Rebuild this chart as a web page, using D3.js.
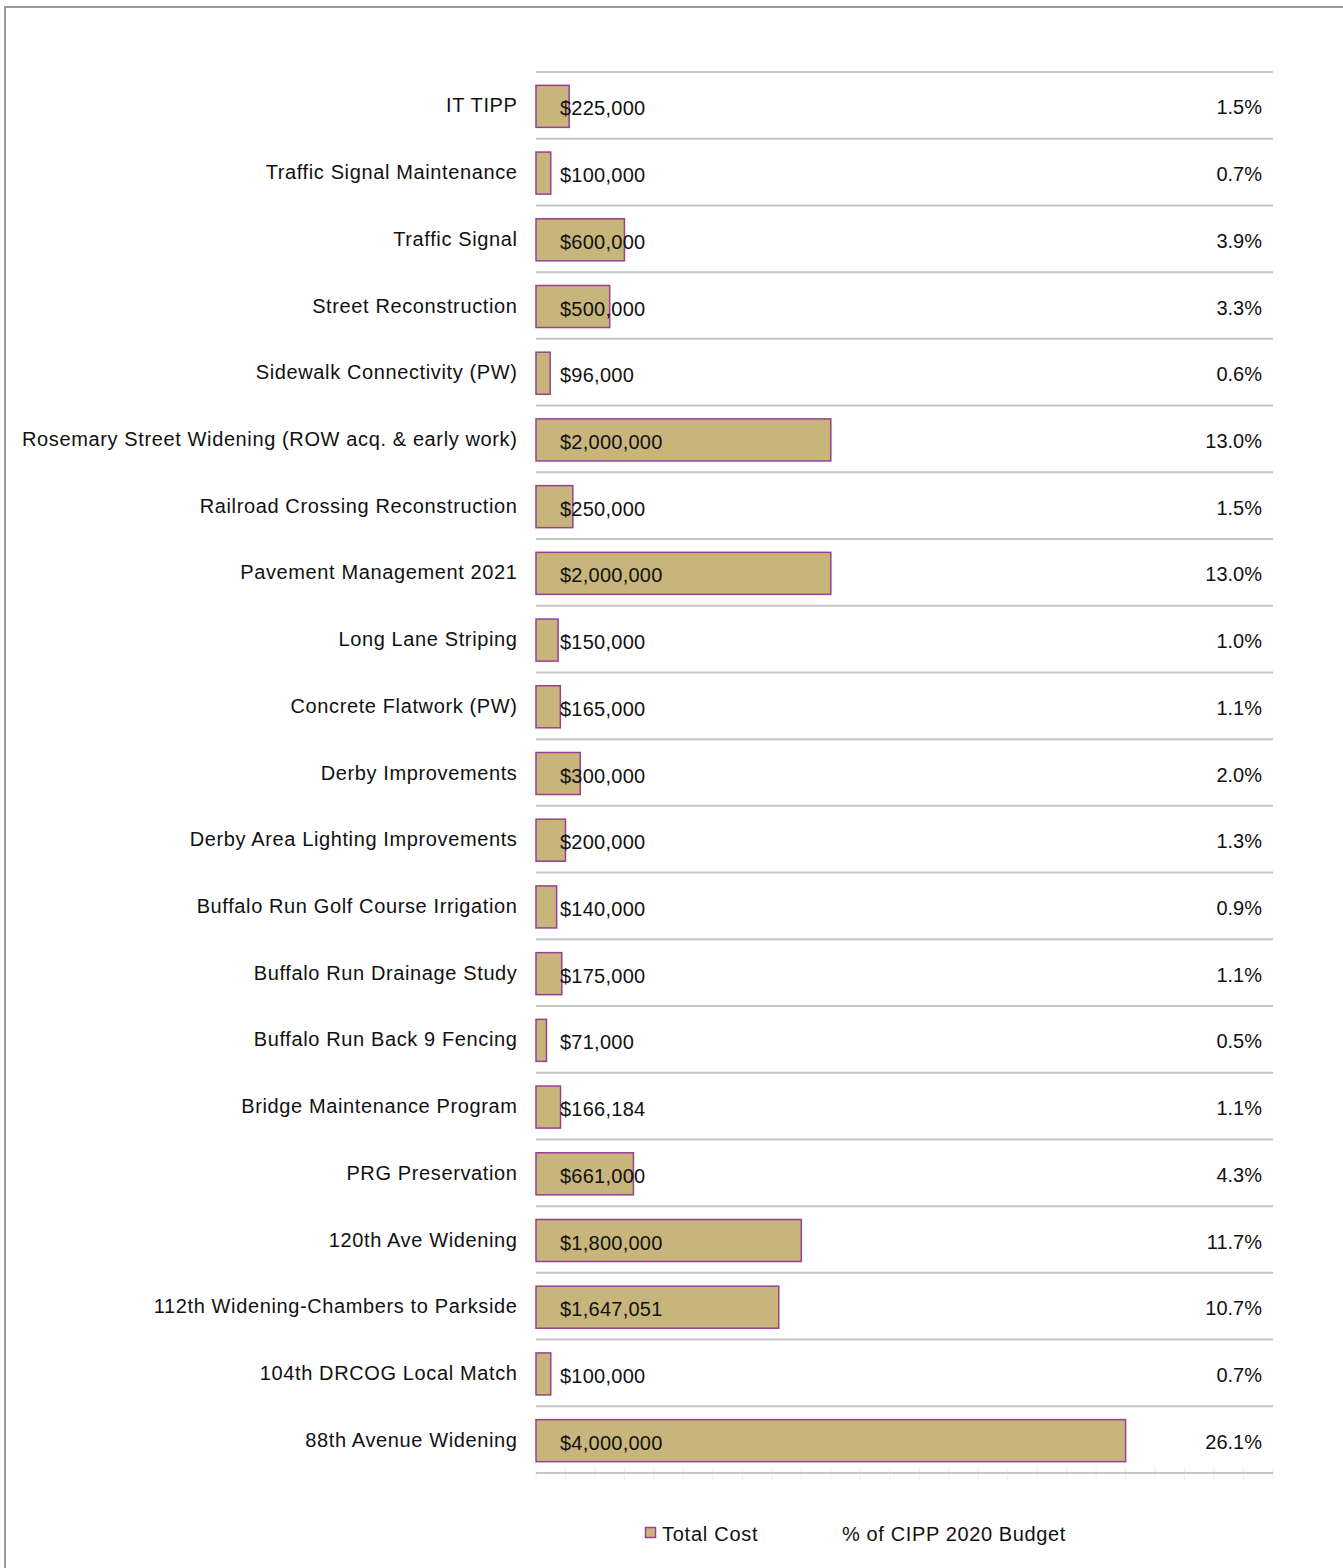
<!DOCTYPE html>
<html>
<head>
<meta charset="utf-8">
<script src="https://cdn.jsdelivr.net/npm/d3@7"></script>
<style>
  html, body { margin: 0; padding: 0; background: #fff; }
  svg { display: block; }
  text { font-family: "Liberation Sans", Arial, sans-serif; fill: #111; }
</style>
</head>
<body>
<svg id="chart" width="1343" height="1568"></svg>
<script>
// Capital projects: total cost and share of the CIPP 2020 budget
const projects = [
  "IT TIPP",
  "Traffic Signal Maintenance",
  "Traffic Signal",
  "Street Reconstruction",
  "Sidewalk Connectivity (PW)",
  "Rosemary Street Widening (ROW acq. & early work)",
  "Railroad Crossing Reconstruction",
  "Pavement Management 2021",
  "Long Lane Striping",
  "Concrete Flatwork (PW)",
  "Derby Improvements",
  "Derby Area Lighting Improvements",
  "Buffalo Run Golf Course Irrigation",
  "Buffalo Run Drainage Study",
  "Buffalo Run Back 9 Fencing",
  "Bridge Maintenance Program",
  "PRG Preservation",
  "120th Ave Widening",
  "112th Widening-Chambers to Parkside",
  "104th DRCOG Local Match",
  "88th Avenue Widening"
];
const totalCost = [
  225000, 100000, 600000, 500000, 96000, 2000000, 250000, 2000000,
  150000, 165000, 300000, 200000, 140000, 175000, 71000, 166184,
  661000, 1800000, 1647051, 100000, 4000000
];
const budgetShare = [
  1.5, 0.7, 3.9, 3.3, 0.6, 13.0, 1.5, 13.0, 1.0, 1.1, 2.0, 1.3,
  0.9, 1.1, 0.5, 1.1, 4.3, 11.7, 10.7, 0.7, 26.1
];
const seriesNames = ["Total Cost", "% of CIPP 2020 Budget"];
const axisMax = 5000000;
const tickStep = 200000;

const svg = d3.select("#chart");
const W = 1343, H = 1568;
const plot = { left: 536, right: 1273, top: 72, bottom: 1473 };

const barFill = "#c8b57c";
const barStroke = "#9a3f92";
const gridColor = "#c6c6c6";

// outer frame (top and left edges)
svg.append("line").attr("x1", 4).attr("x2", W).attr("y1", 7).attr("y2", 7)
  .attr("stroke", "#9a9a9a").attr("stroke-width", 2);
svg.append("line").attr("x1", 5).attr("x2", 5).attr("y1", 6).attr("y2", H)
  .attr("stroke", "#9a9a9a").attr("stroke-width", 2);

const x = d3.scaleLinear().domain([0, axisMax]).range([plot.left, plot.right]);
const y = d3.scaleBand().domain(projects).range([plot.top, plot.bottom])
  .paddingInner(0.37).paddingOuter(0.185);

const step = y.step();

// faint value ticks under the plot
const ticks = d3.range(0, axisMax + 1, tickStep);
svg.append("g").selectAll("line").data(ticks).join("line")
  .attr("x1", d => x(d)).attr("x2", d => x(d))
  .attr("y1", plot.bottom - 6).attr("y2", plot.bottom + 7)
  .attr("stroke", "#f0f0f0").attr("stroke-width", 1);

// horizontal separators between categories
const gridYs = d3.range(projects.length + 1).map(i => plot.top + i * step);
svg.append("g").selectAll("line").data(gridYs).join("line")
  .attr("x1", plot.left).attr("x2", plot.right)
  .attr("y1", d => d).attr("y2", d => d)
  .attr("stroke", gridColor).attr("stroke-width", 2);

// cost bars
svg.append("g").selectAll("rect").data(projects).join("rect")
  .attr("x", x(0))
  .attr("y", d => y(d) + 1)
  .attr("width", (d, i) => x(totalCost[i]) - x(0))
  .attr("height", y.bandwidth())
  .attr("fill", barFill)
  .attr("stroke", barStroke)
  .attr("stroke-width", 1.5);

// category labels
svg.append("g").selectAll("text").data(projects).join("text")
  .attr("x", 517.5)
  .attr("y", d => y(d) + y.bandwidth() / 2 + 7)
  .attr("text-anchor", "end")
  .attr("font-size", 20)
  .attr("letter-spacing", 0.62)
  .text(d => d);

// cost value labels
const fmtCost = d3.format("$,");
svg.append("g").selectAll("text").data(projects).join("text")
  .attr("x", 560)
  .attr("y", (d, i) => y(d) + y.bandwidth() / 2 + 10)
  .attr("font-size", 20)
  .attr("letter-spacing", 0.25)
  .text((d, i) => fmtCost(totalCost[i]));

// share-of-budget labels
svg.append("g").selectAll("text").data(projects).join("text")
  .attr("x", 1262)
  .attr("y", (d, i) => y(d) + y.bandwidth() / 2 + 9)
  .attr("text-anchor", "end")
  .attr("font-size", 20)
  .text((d, i) => d3.format(".1f")(budgetShare[i]) + "%");

// legend
const lg = svg.append("g");
lg.append("rect").attr("x", 645.5).attr("y", 1527.5).attr("width", 10).attr("height", 10)
  .attr("fill", barFill).attr("stroke", barStroke).attr("stroke-width", 1.5);
lg.append("text").attr("x", 662).attr("y", 1541).attr("font-size", 20)
  .attr("letter-spacing", 0.75).text(seriesNames[0]);
lg.append("text").attr("x", 842).attr("y", 1541).attr("font-size", 20)
  .attr("letter-spacing", 0.62).text(seriesNames[1]);
</script>
</body>
</html>
